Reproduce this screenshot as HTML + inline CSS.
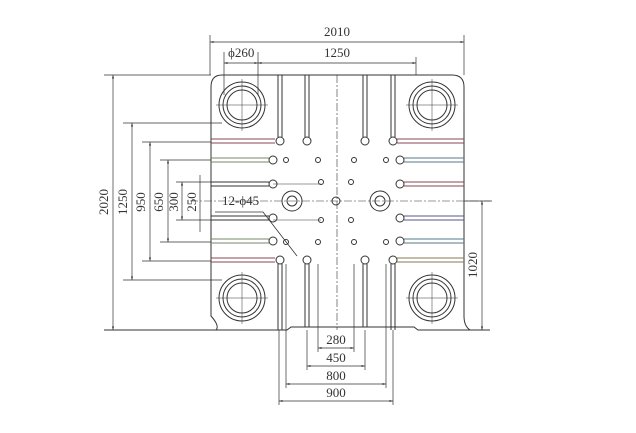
<!DOCTYPE html><html><head><style>body{margin:0;background:#fff}svg{display:block}text{font-family:"Liberation Serif",serif;fill:#333;font-size:13px}</style></head><body>
<svg width="636" height="433" viewBox="0 0 636 433" xmlns="http://www.w3.org/2000/svg">
<defs><marker id="a" viewBox="0 0 10 10" refX="10" refY="5" markerWidth="7" markerHeight="5" orient="auto-start-reverse"><path d="M0,2L10,5L0,8z" fill="#333"/></marker></defs>
<g fill="none" stroke="#333" stroke-width="1">
<path d="M222,75 H452 Q464,75 464,87 V316 Q464,326 470,330 H418 L414,327 H291 L287,330 H216 Q220,326 211,316 V87 Q211,75 222,75 Z"/>
<line x1="104" y1="330" x2="216" y2="330"/><line x1="470" y1="330" x2="490" y2="330"/>
<line x1="337" y1="75" x2="337" y2="330" stroke-dasharray="8,2,2,2" stroke-width="0.6"/>
<line x1="190" y1="201" x2="490" y2="201" stroke-dasharray="8,2,2,2" stroke-width="0.6"/>
<g>
<circle cx="242" cy="105" r="23"/><circle cx="242" cy="105" r="19"/><circle cx="242" cy="105" r="15"/>
<circle cx="432" cy="105" r="23"/><circle cx="432" cy="105" r="19"/><circle cx="432" cy="105" r="15"/>
<circle cx="242" cy="298" r="23"/><circle cx="242" cy="298" r="19"/><circle cx="242" cy="298" r="15"/>
<circle cx="432" cy="298" r="23"/><circle cx="432" cy="298" r="19"/><circle cx="432" cy="298" r="15"/>
</g>
<g stroke-width="0.5"><path d="M216,105H268M242,79V131M406,105H458M432,79V131M216,298H268M242,272V324M406,298H458M432,272V324"/></g>
<path d="M278,75V137M282,75V137M305,75V137M309,75V137M363,75V137M367,75V137M391,75V137M395,75V137"/>
<path d="M278,264V330M282,264V330M305,264V327M309,264V327M363,264V327M367,264V327M391,264V330M395,264V330"/>
<g>
<path d="M211,139H275M211,143H275" stroke="#845"/>
<path d="M211,158H269M211,162H269" stroke="#786"/>
<path d="M211,182H269M211,186H269"/>
<path d="M211,216H269M211,220H269"/>
<path d="M211,239H269M211,243H269" stroke="#786"/>
<path d="M211,258H275M211,262H275" stroke="#845"/>
<path d="M397,139H464M397,143H464" stroke="#845"/>
<path d="M404,158H464M404,162H464" stroke="#578"/>
<path d="M404,182H464M404,186H464" stroke="#845"/>
<path d="M404,216H464M404,220H464" stroke="#558"/>
<path d="M404,239H464M404,243H464" stroke="#578"/>
<path d="M397,258H464M397,262H464" stroke="#875"/>
</g>
<g>
<circle cx="280" cy="141" r="4"/><circle cx="307" cy="141" r="4"/><circle cx="365" cy="141" r="4"/><circle cx="393" cy="141" r="4"/>
<circle cx="273" cy="160" r="4"/><circle cx="400" cy="160" r="4"/>
<circle cx="273" cy="184" r="4"/><circle cx="400" cy="184" r="4"/>
<circle cx="273" cy="218" r="4"/><circle cx="400" cy="218" r="4"/>
<circle cx="273" cy="241" r="4"/><circle cx="400" cy="241" r="4"/>
<circle cx="280" cy="260" r="4"/><circle cx="307" cy="260" r="4"/><circle cx="365" cy="260" r="4"/><circle cx="393" cy="260" r="4"/>
<circle cx="286" cy="160" r="2.5"/><circle cx="318" cy="160" r="2.5"/><circle cx="354" cy="160" r="2.5"/><circle cx="386" cy="160" r="2.5"/>
<circle cx="321" cy="182" r="2.5"/><circle cx="351" cy="182" r="2.5"/>
<circle cx="321" cy="220" r="2.5"/><circle cx="351" cy="220" r="2.5"/>
<circle cx="286" cy="242" r="2.5"/><circle cx="318" cy="242" r="2.5"/><circle cx="354" cy="242" r="2.5"/><circle cx="386" cy="242" r="2.5"/>
<circle cx="292" cy="201" r="10"/><circle cx="292" cy="201" r="5"/>
<circle cx="380" cy="201" r="10"/><circle cx="380" cy="201" r="5"/>
<circle cx="336" cy="201" r="4"/>
</g>
<path d="M273,184H321M273,220H321" stroke-width="0.6"/>
<path d="M215,212H263L297,256" stroke-width="0.8"/>
<g stroke-width="0.7">
<path d="M210,35V75M464,35V75M224,52V95M258,52V95M416,57V75"/>
<path d="M104,75H211M123,123H222M123,280H222M142,142H211M142,261H211M160,160H211M160,242H211M176,182H211M176,220H211M464,201H492"/>
<path d="M318,264V352M354,264V352M307,330V370M365,330V370M286,264V388M386,264V388M279,330V405M393,330V405"/>
</g>
<g stroke-width="0.7" marker-start="url(#a)" marker-end="url(#a)">
<path d="M210,42H464"/><path d="M224,63H258"/><path d="M258,63H416"/>
<path d="M113,75V330"/><path d="M132,123V280"/><path d="M150,142V261"/><path d="M168,160V242"/><path d="M182,182V220"/>
<path d="M482,201V330"/>
<path d="M318,348H354"/><path d="M307,366H365"/><path d="M286,384H386"/><path d="M279,401H393"/>
</g>
<path d="M200,175V232" stroke-width="0.7"/>
</g>
<text x="337" y="36" text-anchor="middle">2010</text>
<text x="228" y="57">ϕ260</text>
<text x="337" y="57" text-anchor="middle">1250</text>
<text x="222" y="205">12-ϕ45</text>
<g>
<text transform="translate(108,202) rotate(-90)" text-anchor="middle">2020</text>
<text transform="translate(127,202) rotate(-90)" text-anchor="middle">1250</text>
<text transform="translate(145,202) rotate(-90)" text-anchor="middle">950</text>
<text transform="translate(163,202) rotate(-90)" text-anchor="middle">650</text>
<text transform="translate(178,202) rotate(-90)" text-anchor="middle">300</text>
<text transform="translate(196,202) rotate(-90)" text-anchor="middle">250</text>
<text transform="translate(477,265) rotate(-90)" text-anchor="middle">1020</text>
</g>
<text x="336" y="344" text-anchor="middle">280</text>
<text x="336" y="362" text-anchor="middle">450</text>
<text x="336" y="380" text-anchor="middle">800</text>
<text x="336" y="397" text-anchor="middle">900</text>
</svg></body></html>
